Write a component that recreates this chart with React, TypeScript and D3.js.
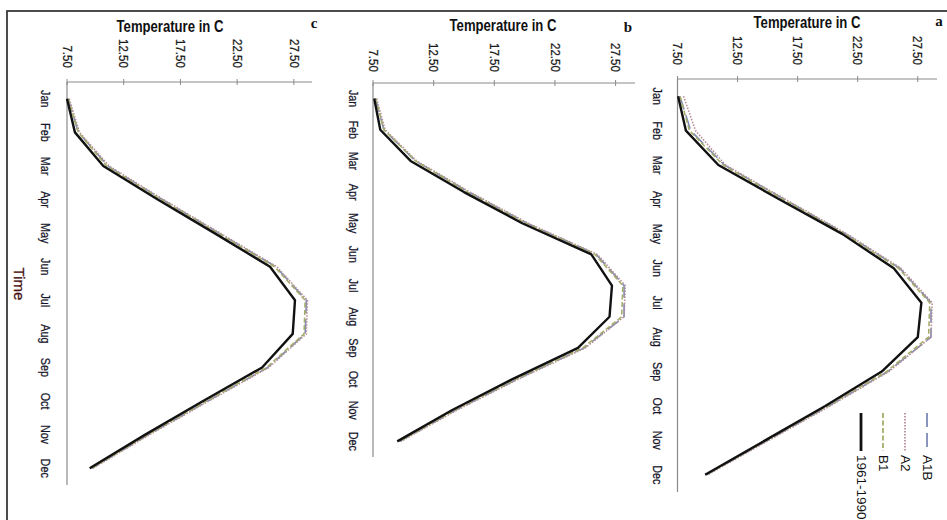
import React from "react";
import * as d3 from "d3";

// ---------- data ----------
const months = ["Jan", "Feb", "Mar", "Apr", "May", "Jun", "Jul", "Aug", "Sep", "Oct", "Nov", "Dec"];
const tempTicks = [7.5, 12.5, 17.5, 22.5, 27.5];
const seriesNames = ["A1B", "A2", "B1", "1961-1990"];

// panel a
const aBase = [7.55, 8.2, 10.9, 16.0, 21.2, 25.5, 27.8, 27.5, 24.5, 19.8, 14.8, 9.8];
const aA1B = [7.7, 8.6, 11.4, 16.4, 21.5, 26.0, 28.6, 28.6, 25.0, 20.1, 15.0, 9.9];
const aA2 = [8.0, 9.0, 11.5, 16.5, 21.6, 26.1, 28.7, 28.6, 25.1, 20.2, 15.1, 10.0];
const aB1 = [7.7, 8.5, 11.3, 16.3, 21.4, 25.9, 28.5, 28.4, 24.9, 20.0, 14.9, 9.9];

// panel b
const bBase = [7.6, 8.1, 10.6, 15.0, 19.8, 25.5, 27.2, 27.0, 24.4, 19.0, 14.0, 9.5];
const bA1B = [7.7, 8.4, 11.0, 15.4, 20.2, 25.9, 28.2, 28.2, 24.9, 19.4, 14.3, 9.7];
const bA2 = [7.8, 8.5, 11.1, 15.5, 20.3, 26.0, 28.3, 28.2, 25.0, 19.5, 14.4, 9.8];
const bB1 = [7.7, 8.4, 11.0, 15.3, 20.1, 25.8, 28.1, 28.0, 24.8, 19.3, 14.2, 9.7];

// panel c
const cBase = [7.5, 8.2, 10.7, 15.5, 20.5, 25.4, 27.6, 27.4, 24.7, 19.5, 14.4, 9.5];
const cA1B = [7.6, 8.5, 11.1, 15.9, 20.9, 25.9, 28.6, 28.5, 25.2, 19.9, 14.7, 9.7];
const cA2 = [7.7, 8.6, 11.2, 16.0, 21.0, 26.0, 28.7, 28.6, 25.3, 20.0, 14.8, 9.8];
const cB1 = [7.6, 8.5, 11.0, 15.8, 20.8, 25.8, 28.5, 28.4, 25.1, 19.8, 14.6, 9.7];

// ---------- layout / styles ----------
const tempMin = 7.5;
const tempMax = 29.1;

type Geo = {
  letter: string;
  x0: number;
  x1: number;
  yTop: number;
  yBot: number;
  titleX: number;
  titleY: number;
  letterX: number;
  letterY: number;
  monthX: number;
  tickLabelEnd: number;
  legend: boolean;
  series: number[][];
};

const panels: Geo[] = [
  { letter: "a", x0: 677.5, x1: 937, yTop: 79, yBot: 492, titleX: 807, titleY: 28, letterX: 939, letterY: 26, monthX: 657, tickLabelEnd: 65, legend: true, series: [aA1B, aA2, aB1, aBase] },
  { letter: "b", x0: 373, x1: 635, yTop: 83, yBot: 457, titleX: 503, titleY: 31, letterX: 628, letterY: 32, monthX: 353, tickLabelEnd: 72, legend: false, series: [bA1B, bA2, bB1, bBase] },
  { letter: "c", x0: 67, x1: 312, yTop: 82, yBot: 485, titleX: 170, titleY: 32, letterX: 314, letterY: 28, monthX: 45, tickLabelEnd: 68, legend: false, series: [cA1B, cA2, cB1, cBase] },
];

const seriesStyles = [
  { stroke: "#7d89b8", width: 1.6, dash: "14 6" },
  { stroke: "#b68e98", width: 1.6, dash: "1.5 1.5" },
  { stroke: "#a6ad6a", width: 1.6, dash: "5 2.5" },
  { stroke: "#111111", width: 2.4, dash: "" },
];

const font = "'Liberation Sans', Arial, sans-serif";

function Panel({ g }: { g: Geo }) {
  const x = d3.scaleLinear().domain([tempMin, tempMax]).range([g.x0, g.x1]);
  const y = d3.scalePoint<string>().domain(months).range([g.yTop, g.yBot]).padding(0.5);
  const line = d3
    .line<number>()
    .x((d) => x(d))
    .y((_, i) => y(months[i]) as number);
  const fmt = d3.format(".2f");
  return (
    <g>
      {/* title */}
      <text
        x={g.titleX}
        y={g.titleY}
        textAnchor="middle"
        fontFamily={font}
        fontWeight="bold"
        fontSize={16}
        fill="#111"
        transform={`translate(${g.titleX},0) scale(0.82,1) translate(${-g.titleX},0)`}
      >
        Temperature in C
      </text>
      <text x={g.letterX} y={g.letterY} textAnchor="middle" fontFamily="'Liberation Serif', 'Times New Roman', serif" fontWeight="bold" fontSize={15} fill="#111">
        {g.letter}
      </text>
      {/* temperature axis */}
      <line x1={g.x0} x2={g.x1} y1={g.yTop} y2={g.yTop} stroke="#8a8a8a" strokeWidth={1.2} />
      {tempTicks.map((t) => (
        <g key={t}>
          <line x1={x(t)} x2={x(t)} y1={g.yTop - 3} y2={g.yTop + 3} stroke="#8a8a8a" strokeWidth={1} />
          <text
            transform={`translate(${x(t)},${g.tickLabelEnd}) rotate(90) scale(0.86,1)`}
            textAnchor="end"
            dominantBaseline="central"
            fontFamily={font}
            fontSize={13.5}
            fill="#1a1a1a"
            stroke="#1a1a1a"
            strokeWidth={0.25}
          >
            {fmt(t)}
          </text>
        </g>
      ))}
      {/* month axis */}
      <line x1={g.x0} x2={g.x0} y1={g.yTop} y2={g.yBot} stroke="#8a8a8a" strokeWidth={1.2} />
      {months.map((m) => (
        <text
          key={m}
          transform={`translate(${g.monthX},${y(m)}) rotate(90) scale(0.8,1)`}
          textAnchor="middle"
          dominantBaseline="central"
          fontFamily={font}
          fontSize={13.5}
          fill="#15152a"
          stroke="#15152a"
          strokeWidth={0.25}
        >
          {m}
        </text>
      ))}
      {/* lines */}
      {g.series.map((s, i) => (
        <path
          key={i}
          d={line(s) || ""}
          fill="none"
          stroke={seriesStyles[i].stroke}
          strokeWidth={seriesStyles[i].width}
          strokeDasharray={seriesStyles[i].dash}
          strokeLinejoin="round"
        />
      ))}
      {g.legend &&
        seriesNames.map((name, i) => {
          const lx = 927 - i * 22;
          return (
            <g key={name}>
              <line
                x1={lx}
                x2={lx}
                y1={413}
                y2={451}
                stroke={seriesStyles[i].stroke}
                strokeWidth={i === 3 ? 2.8 : 1.8}
                strokeDasharray={seriesStyles[i].dash}
              />
              <text
                transform={`translate(${lx},${455}) rotate(90)`}
                textAnchor="start"
                dominantBaseline="central"
                fontFamily={font}
                fontSize={13.5}
                fill="#111"
              >
                {name}
              </text>
            </g>
          );
        })}
    </g>
  );
}

export default function App() {
  return (
    <svg width={947} height={520} style={{ position: "absolute", left: 0, top: 0, background: "#fff" }}>
      <rect x={0} y={0} width={947} height={520} fill="#fff" />
      <rect x={7} y={11} width={960} height={540} fill="none" stroke="#3a3a3a" strokeWidth={1.8} />
      {panels.map((g) => (
        <Panel key={g.letter} g={g} />
      ))}
      <text
        transform={`translate(19,284) rotate(90)`}
        textAnchor="middle"
        dominantBaseline="central"
        fontFamily={font}
        fontSize={15}
        fill="#4a1212"
        stroke="#4a1212"
        strokeWidth={0.3}
      >
        Time
      </text>
    </svg>
  );
}
